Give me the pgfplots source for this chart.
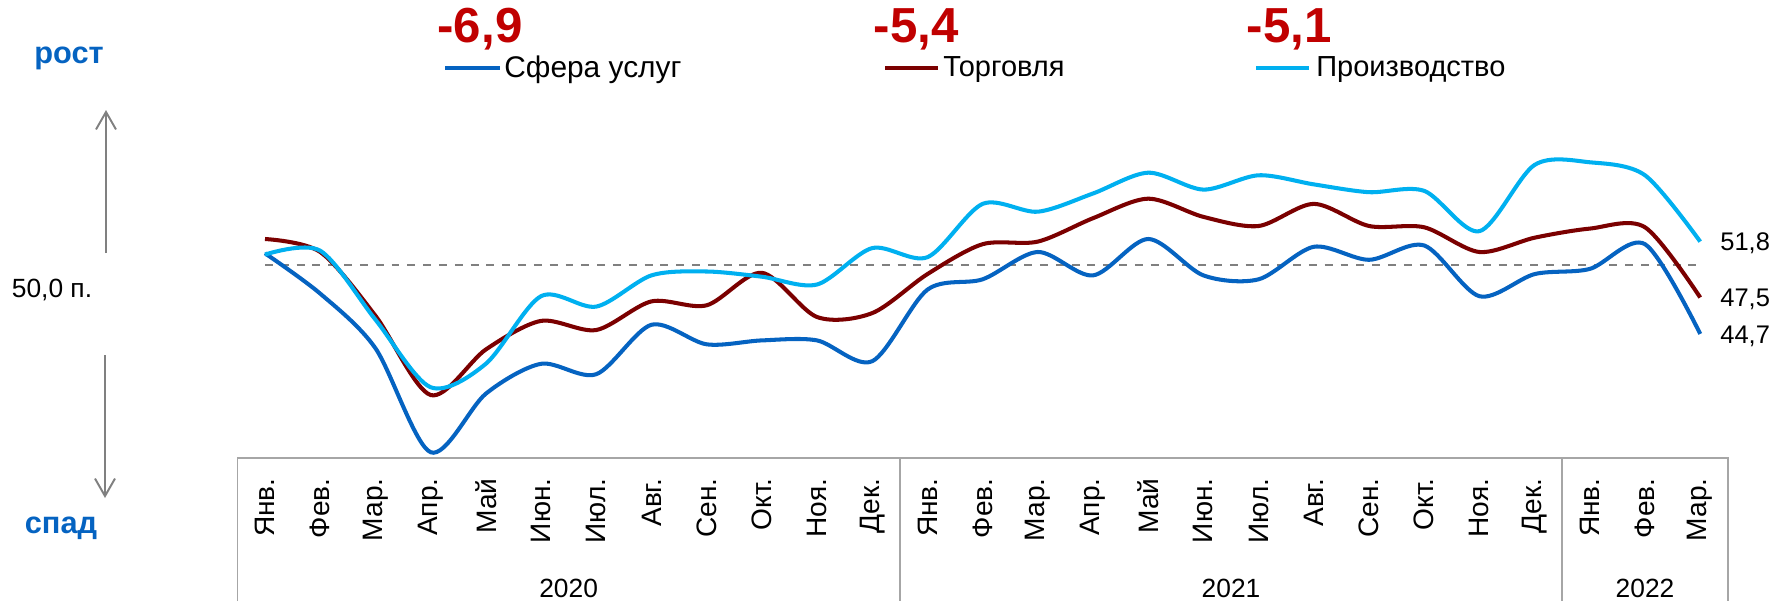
\documentclass[border=0pt]{standalone}
\usepackage{fontspec}
\setmainfont{Liberation Sans}
\usepackage{pgfplots}
\pgfplotsset{compat=1.18}
\usetikzlibrary{arrows.meta}
\definecolor{services}{HTML}{0563C1}
\definecolor{trade}{HTML}{7B0000}
\definecolor{production}{HTML}{00B0F0}
\definecolor{accent}{HTML}{C00000}
\definecolor{framegray}{HTML}{A6A6A6}
\definecolor{dashgray}{HTML}{808080}
\newcommand{\fs}[1]{\fontsize{#1}{#1}\selectfont}

\begin{document}
\begin{tikzpicture}
% one reference pixel = 0.2mm; axis box spans x 237..1728, y 100..458
\begin{axis}[
    at={(47.48mm,-91.6mm)}, anchor=south west,
    scale only axis, width=298.08mm, height=71.6mm,
    xmin=-0.5, xmax=26.5, ymin=35.154, ymax=62.69,
    axis x line*=bottom, axis y line=none,
    x axis line style={draw=none},
    xtick={0,...,26}, major tick length=0pt,
    xticklabels={Янв.,Фев.,Мар.,Апр.,Май,Июн.,Июл.,Авг.,Сен.,Окт.,Ноя.,Дек.,
                 Янв.,Фев.,Мар.,Апр.,Май,Июн.,Июл.,Авг.,Сен.,Окт.,Ноя.,Дек.,
                 Янв.,Фев.,Мар.},
    xticklabel shift=4mm,
    xticklabel style={font=\fs{16}, rotate=90, anchor=east, inner sep=0pt},
    clip=false,
]
    % 50-point threshold
    \addplot[dashgray, line width=1.2pt, dash pattern=on 4.5pt off 4.5pt]
    coordinates {(0,50) (26,50)};
    % Сфера услуг
    \addplot[services, line width=2.3pt, smooth, tension=0.5] coordinates {
        (0,50.9) (1,47.8) (2,43.6) (3,35.6) (4,40.1) (5,42.4) (6,41.6) (7,45.4)
        (8,43.9) (9,44.2) (10,44.2) (11,42.6) (12,48.1) (13,48.9) (14,51.0)
        (15,49.2) (16,52.0) (17,49.2) (18,48.9) (19,51.4) (20,50.4) (21,51.5)
        (22,47.6) (23,49.3) (24,49.7) (25,51.6) (26,44.7)};
    % Торговля
    \addplot[trade, line width=2.3pt, smooth, tension=0.5] coordinates {
        (0,52.0) (1,51.0) (2,46.1) (3,40.0) (4,43.5) (5,45.7) (6,45.0) (7,47.2)
        (8,46.9) (9,49.4) (10,46.0) (11,46.3) (12,49.3) (13,51.6) (14,51.8)
        (15,53.6) (16,55.1) (17,53.7) (18,53.0) (19,54.7) (20,53.0) (21,52.9)
        (22,51.0) (23,52.1) (24,52.8) (25,52.9) (26,47.5)};
    % Производство
    \addplot[production, line width=2.3pt, smooth, tension=0.5] coordinates {
        (0,50.8) (1,51.1) (2,45.8) (3,40.6) (4,42.4) (5,47.6) (6,46.8) (7,49.2)
        (8,49.5) (9,49.1) (10,48.5) (11,51.3) (12,50.6) (13,54.7) (14,54.1)
        (15,55.5) (16,57.1) (17,55.8) (18,56.9) (19,56.2) (20,55.6) (21,55.7)
        (22,52.6) (23,57.7) (24,57.9) (25,56.9) (26,51.8)};
\end{axis}

\begin{scope}[x=0.2mm, y=-0.2mm]
    \path (0,0) rectangle (1773,601);
    % category table
    \draw[framegray, line width=0.9pt] (237.4,601) -- (237.4,458) -- (1727.8,458) -- (1727.8,601);
    \draw[framegray, line width=0.9pt] (899.8,458) -- (899.8,601) (1562.2,458) -- (1562.2,601);
    \node[font=\fs{15}, anchor=base, inner sep=0pt] at (568.6,597) {2020};
    \node[font=\fs{15}, anchor=base, inner sep=0pt] at (1231,597) {2021};
    \node[font=\fs{15}, anchor=base, inner sep=0pt] at (1645,597) {2022};
    % end values
    \node[font=\fs{14.5}, anchor=west, inner sep=0pt] at (1720,243) {51,8};
    \node[font=\fs{14.5}, anchor=west, inner sep=0pt] at (1720,299) {47,5};
    \node[font=\fs{14.5}, anchor=west, inner sep=0pt] at (1720,336) {44,7};
    % left annotations
    \node[font=\fs{17.5}\bfseries, text=services] at (69,58) {рост};
    \draw[dashgray, line width=1.1pt, -{Straight Barb[length=3.5mm, width=4mm]}] (106,253) -- (106,110);
    \node[font=\fs{15}] at (52,290) {50,0 п.};
    \draw[dashgray, line width=1.1pt, -{Straight Barb[length=3.5mm, width=4mm]}] (105,355) -- (105,498);
    \node[font=\fs{17.5}\bfseries, text=services] at (61,528) {спад};
    % legend with changes
    \node[font=\fs{28}\bfseries, text=accent, anchor=base, inner sep=0pt] at (480,42) {-6,9};
    \draw[services, line width=2.3pt] (445,68) -- (500,68);
    \node[font=\fs{17}, anchor=west, inner sep=0pt] at (504,70) {Сфера услуг};
    \node[font=\fs{28}\bfseries, text=accent, anchor=base, inner sep=0pt] at (916,42) {-5,4};
    \draw[trade, line width=2.3pt] (885,68) -- (938,68);
    \node[font=\fs{16.5}, anchor=west, inner sep=0pt] at (943,70) {Торговля};
    \node[font=\fs{28}\bfseries, text=accent, anchor=base, inner sep=0pt] at (1289,42) {-5,1};
    \draw[production, line width=2.3pt] (1256,68) -- (1309,68);
    \node[font=\fs{16.5}, anchor=west, inner sep=0pt] at (1316,70) {Производство};
\end{scope}
\end{tikzpicture}
\end{document}
